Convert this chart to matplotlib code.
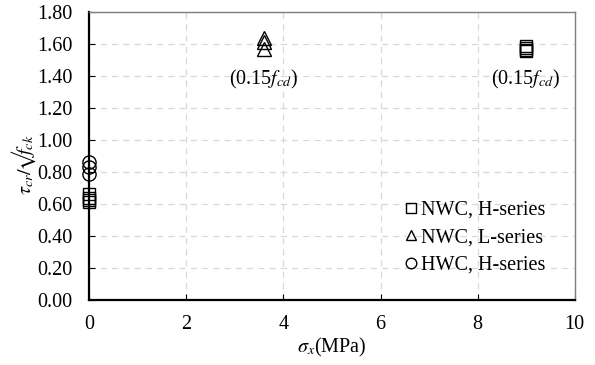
import numpy as np
from matplotlib import pyplot as plt

plt.rcParams['font.family'] = ['Liberation Serif', 'DejaVu Serif']
plt.rcParams['mathtext.fontset'] = 'stix'

# NWC, H-series (squares)
nwc_h_x = [0, 0, 0, 0, 9, 9, 9, 9]
nwc_h_y = [0.61, 0.625, 0.64, 0.665, 1.555, 1.565, 1.575, 1.59]
# NWC, L-series (triangles)
nwc_l_x = [3.6, 3.6, 3.6]
nwc_l_y = [1.57, 1.61, 1.64]
# HWC, H-series (circles)
hwc_h_x = [0, 0, 0]
hwc_h_y = [0.79, 0.83, 0.865]

x_ticks = [0, 2, 4, 6, 8, 10]
y_ticks = np.arange(0, 1.81, 0.2)

fs = 14.5

fig = plt.figure(figsize=(5.95, 3.65), dpi=100)
ax = fig.add_axes([0.15, 0.178, 0.816, 0.789])

mk = dict(linestyle='none', markerfacecolor='none', markeredgecolor='black',
          markeredgewidth=1.0, clip_on=False)
ax.plot(nwc_h_x, nwc_h_y, marker='s', markersize=9, label='NWC, H-series', **mk)
ax.plot(nwc_l_x, nwc_l_y, marker='^', markersize=9.5, label='NWC, L-series', **mk)
ax.plot(hwc_h_x, hwc_h_y, marker='o', markersize=9.5, label='HWC, H-series', **mk)

ax.annotate(r'(0.15$f_{cd}$)', xy=(3.6, 1.57), xytext=(0, -22), textcoords='offset points',
            ha='center', va='center', fontsize=fs)
ax.annotate(r'(0.15$f_{cd}$)', xy=(9, 1.555), xytext=(0, -20), textcoords='offset points',
            ha='center', va='center', fontsize=fs)

ax.set_xlim(0, 10)
ax.set_ylim(0, 1.8)
ax.set_xticks(x_ticks)
ax.set_yticks(y_ticks)
ax.set_yticklabels(['%.2f' % v for v in y_ticks])
ax.tick_params(direction='in', length=4, labelsize=fs)
ax.tick_params(axis='y', pad=12)
ax.tick_params(axis='x', pad=11)

ax.grid(True, linestyle=(0, (5, 4)), color='#d9d9d9', linewidth=0.9)
ax.set_axisbelow(True)

for s in ['left', 'bottom']:
    ax.spines[s].set_color('black')
    ax.spines[s].set_linewidth(1.6)
for s in ['top', 'right']:
    ax.spines[s].set_color('#7f7f7f')
    ax.spines[s].set_linewidth(1.0)

ax.set_xlabel(r'$\sigma_x$(MPa)', fontsize=fs, labelpad=1)
ax.set_ylabel(r'$\tau_{cr}/\!√\!f_{ck}$', fontsize=fs)
ax.yaxis.set_label_coords(-0.105, 0.47)

ax.legend(loc='lower right', bbox_to_anchor=(0.965, 0.045), frameon=False,
          fontsize=fs, handletextpad=0.1, handlelength=0.8, markerscale=0.8,
          labelspacing=0.42, borderaxespad=0.2)

fig.savefig('out.png', dpi=100)
